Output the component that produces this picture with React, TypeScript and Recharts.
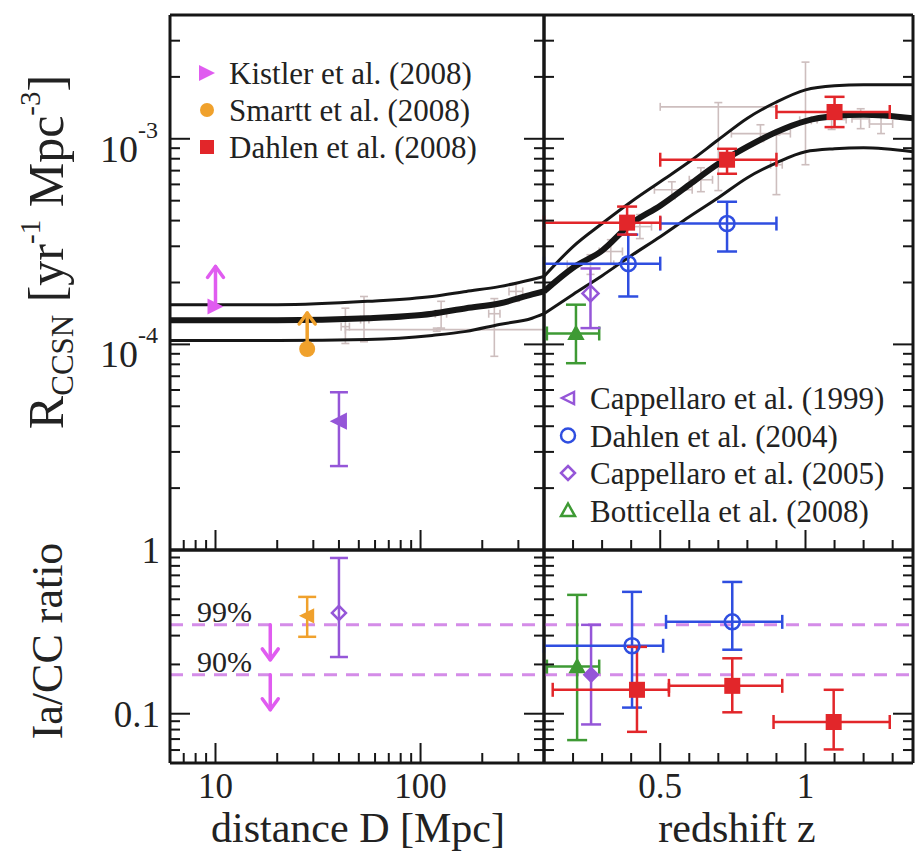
import React from 'react';
import { ComposedChart, Line, Scatter, XAxis, YAxis, ErrorBar, ReferenceLine } from 'recharts';

const SERIF = '"Liberation Serif", "DejaVu Serif", "Times New Roman", serif';
const INK = '#161616';
const MAGENTA = '#e05cf0';
const ORANGE = '#f0a12c';
const RED = '#e2262a';
const BLUE = '#2f4ee0';
const PURPLE = '#9556d8';
const GREEN = '#3e9a34';
const DASH = '#d48ce8';
const FAINT = '#cdbebe';

// ---- axes ----
const distDomain = [6, 400];
const zDomain = [0.1, 1.37];
const rateDomain = [1e-5, 4e-3];
const ratioDomain = [0.05, 1];

const distTicks = [6, 7, 8, 9, 10, 20, 30, 40, 50, 60, 70, 80, 90, 100, 200, 300, 400];
const zTicks = [0.1, 0.2, 0.3, 0.4, 0.5, 0.6, 0.7, 0.8, 0.9, 1.0, 1.1, 1.2, 1.3];
const rateTicks = [
  1e-5, 2e-5, 3e-5, 4e-5, 5e-5, 6e-5, 7e-5, 8e-5, 9e-5,
  1e-4, 2e-4, 3e-4, 4e-4, 5e-4, 6e-4, 7e-4, 8e-4, 9e-4,
  1e-3, 2e-3, 3e-3, 4e-3,
];
const ratioTicks = [0.05, 0.06, 0.07, 0.08, 0.09, 0.1, 0.2, 0.3, 0.4, 0.5, 0.6, 0.7, 0.8, 0.9, 1];
const zMajor = [0.5, 1.0];

const distLabels: [number, string][] = [[10, '10'], [100, '100']];
const zLabels: [number, string][] = [[0.5, '0.5'], [1, '1']];
const rateLabels: [number, string][] = [[1e-3, '-3'], [1e-4, '-4']];
const ratioLabels: [number, string][] = [[1, '1'], [0.1, '0.1']];

// ---- fit curves (solid black band) ----
const fitD = [6, 10, 20, 55, 114, 167, 242, 350, 400];
const fitNearHi = [1.56e-4, 1.56e-4, 1.56e-4, 1.62e-4, 1.71e-4, 1.81e-4, 1.91e-4, 2.07e-4, 2.14e-4];
const fitNearMid = [1.31e-4, 1.31e-4, 1.31e-4, 1.34e-4, 1.41e-4, 1.5e-4, 1.58e-4, 1.75e-4, 1.81e-4];
const fitNearLo = [1.045e-4, 1.045e-4, 1.045e-4, 1.057e-4, 1.106e-4, 1.157e-4, 1.25e-4, 1.34e-4, 1.41e-4];

const fitZ = [0.1, 0.2, 0.3, 0.4, 0.5, 0.6, 0.7, 0.8, 0.9, 1.0, 1.1, 1.2, 1.37];
const fitFarHi = [2.14e-4, 2.99e-4, 3.87e-4, 4.94e-4, 6.18e-4, 7.73e-4, 9.89e-4, 1.26e-3, 1.51e-3, 1.73e-3, 1.81e-3, 1.83e-3, 1.83e-3];
const fitFarMid = [1.81e-4, 2.36e-4, 2.86e-4, 3.87e-4, 4.73e-4, 5.98e-4, 7.56e-4, 9.15e-4, 1.08e-3, 1.22e-3, 1.29e-3, 1.31e-3, 1.26e-3];
const fitFarLo = [1.41e-4, 1.75e-4, 2.16e-4, 2.7e-4, 3.34e-4, 4.18e-4, 5.17e-4, 6.47e-4, 7.64e-4, 8.65e-4, 8.94e-4, 9.04e-4, 8.65e-4];

// ---- rate measurements: [x, y, yLow, yHigh, xLow?, xHigh?] ----
const kistlerRate = [[10, 1.53e-4]];
const smarttRate = [[28, 0.95e-4]];
const cappellaro99Rate = [[40, 4.23e-5, 2.56e-5, 5.85e-5]];
const dahlen08Rate = [
  [0.386, 3.91e-4, 3.42e-4, 4.68e-4, 0.1, 0.5],
  [0.73, 7.91e-4, 6.76e-4, 8.94e-4, 0.5, 0.9],
  [1.1, 1.35e-3, 1.14e-3, 1.6e-3, 0.9, 1.29],
];
const dahlen04Rate = [
  [0.39, 2.47e-4, 1.71e-4, 3.42e-4, 0.1, 0.5],
  [0.73, 3.87e-4, 2.83e-4, 4.94e-4, 0.5, 0.9],
];
const cappellaro05Rate = [[0.26, 1.77e-4, 1.2e-4, 2.34e-4]];
const botticellaRate = [[0.21, 1.13e-4, 0.81e-4, 1.56e-4, 0.11, 0.29]];

// faint background (star-formation based) points
const faintNear = [
  [43, 1.22e-4, 1.01e-4, 1.5e-4, 41, 45],
  [53, 1.32e-4, 1.03e-4, 1.71e-4, 51, 56],
  [126, 1.41e-4, 1.2e-4, 1.62e-4, 118, 134],
  [229, 1.41e-4, 0.875e-4, 1.67e-4, 215, 244],
  [120, 1.18e-4, 1.16e-4, 1.2e-4, 43, 400],
  [292, 1.81e-4, 1.62e-4, 1.98e-4, 270, 315],
];
const faintFar = [
  [0.26, 2.45e-4, 2.19e-4, 2.73e-4, 0.18, 0.34],
  [0.54, 5.65e-4, 5.11e-4, 6.18e-4, 0.48, 0.61],
  [0.7, 1.43e-3, 5.6e-4, 1.5e-3, 0.5, 0.9],
  [1.0, 1.23e-3, 7.48e-4, 2.36e-3, 0.98, 1.02],
  [0.845, 1.06e-3, 9.7e-4, 1.17e-3, 0.745, 0.948],
  [1.19, 1.25e-3, 1.12e-3, 1.4e-3, 1.16, 1.22],
  [0.9, 7.48e-4, 5.35e-4, 1.045e-3, 0.88, 0.92],
  [0.33, 2.83e-4, 2.47e-4, 3.23e-4, 0.29, 0.37],
  [0.43, 3.74e-4, 3.27e-4, 4.28e-4, 0.39, 0.47],
  [0.64, 6.32e-4, 5.53e-4, 7.23e-4, 0.6, 0.68],
  [1.09, 1.24e-3, 1.11e-3, 1.38e-3, 1.04, 1.14],
  [1.26, 1.18e-3, 1.06e-3, 1.31e-3, 1.22, 1.3],
];

// ---- Ia/CC ratio ----
const ratioLimitLevels = [0.349, 0.173];
const ratioLimitText = ['99%', '90%'];
const ratioLimitD = [[18.5, 0.349], [18.5, 0.173]];
const smarttRatio = [[28, 0.396, 0.295, 0.517]];
const cappellaro99Ratio = [[40, 0.413, 0.222, 0.894]];
const dahlen04Ratio = [
  [0.403, 0.26, 0.109, 0.555, 0.1, 0.51],
  [0.748, 0.364, 0.246, 0.638, 0.52, 0.92],
];
const botticellaRatio = [[0.214, 0.194, 0.069, 0.532, 0.11, 0.29]];
const cappellaro05Ratio = [[0.262, 0.173, 0.086, 0.349]];
const dahlen08Ratio = [
  [0.42, 0.14, 0.0775, 0.256, 0.13, 0.53],
  [0.748, 0.148, 0.102, 0.218, 0.53, 0.92],
  [1.097, 0.089, 0.0605, 0.14, 0.89, 1.29],
];

const legendNear = ['Kistler et al. (2008)', 'Smartt et al. (2008)', 'Dahlen et al. (2008)'];
const legendFar = ['Cappellaro et al. (1999)', 'Dahlen et al. (2004)', 'Cappellaro et al. (2005)', 'Botticella et al. (2008)'];

// ---- helpers ----
const toPts = (rows: number[][]) =>
  rows.map(([x, y, yLo, yHi, xLo, xHi]) => ({
    x,
    y,
    ey: yLo != null ? [y - yLo, yHi - y] : [0, 0],
    ex: xLo != null ? [x - xLo, xHi - x] : [0, 0],
  }));
const toLine = (xs: number[], ys: number[]) => xs.map((x, i) => ({ x, y: ys[i] }));

const near = (a: number, b: number) => Math.abs(a - b) <= Math.abs(b) * 1e-6;
const isPow10 = (v: number) => Math.abs(Math.log10(v) - Math.round(Math.log10(v))) < 1e-6;
const isZMajor = (v: number) => zMajor.some((m) => near(v, m));
const lookup = (list: [number, string][], v: number) => list.find(([k]) => near(v, k))?.[1];

type Side = 'left' | 'right' | 'top' | 'bottom';
const makeTick =
  (side: Side, major: (v: number) => boolean, label?: (v: number, x: number, y: number) => React.ReactNode) =>
  (props: any) => {
    const { x, y, payload } = props;
    const v = payload.value;
    const len = major(v) ? 20 : 10;
    const x2 = side === 'left' ? x + len : side === 'right' ? x - len : x;
    const y2 = side === 'top' ? y + len : side === 'bottom' ? y - len : y;
    return (
      <g>
        <line x1={x} y1={y} x2={x2} y2={y2} stroke={INK} strokeWidth={2} />
        {label ? label(v, x, y) : null}
      </g>
    );
  };

const txt = { fontFamily: SERIF, fill: '#222' };

const rateTickLabel = (v: number, x: number, y: number) => {
  const e = lookup(rateLabels, v);
  if (!e) return null;
  return (
    <text x={x - 12} y={y + 23} textAnchor="end" fontSize={38} {...txt}>
      10<tspan fontSize={24} dy={-24}>{e}</tspan>
    </text>
  );
};
const ratioTickLabel = (v: number, x: number, y: number) => {
  const s = lookup(ratioLabels, v);
  if (!s) return null;
  return (
    <text x={x - 10} y={y + 13} textAnchor="end" fontSize={37} {...txt}>
      {s}
    </text>
  );
};
const bottomLabel = (list: [number, string][]) => (v: number, x: number, y: number) => {
  const s = lookup(list, v);
  if (!s) return null;
  return (
    <text x={x} y={y + 35} textAnchor="middle" fontSize={35} {...txt}>
      {s}
    </text>
  );
};

// ---- markers ----
type Kind = 'triR' | 'triL' | 'circle' | 'circleOpen' | 'square' | 'diamondOpen' | 'diamond' | 'triUp' | 'triUpOpen';
const Marker = ({ cx, cy, kind, color, s = 8 }: { cx: number; cy: number; kind: Kind; color: string; s?: number }) => {
  switch (kind) {
    case 'triR':
      return <polygon points={`${cx - s},${cy - s} ${cx + s},${cy} ${cx - s},${cy + s}`} fill={color} />;
    case 'triL':
      return <polygon points={`${cx + s},${cy - s} ${cx - s},${cy} ${cx + s},${cy + s}`} fill={color} stroke={color} strokeWidth={2} />;
    case 'circle':
      return <circle cx={cx} cy={cy} r={s} fill={color} />;
    case 'circleOpen':
      return <circle cx={cx} cy={cy} r={s} fill="none" stroke={color} strokeWidth={2.5} />;
    case 'square':
      return <rect x={cx - s} y={cy - s} width={2 * s} height={2 * s} fill={color} />;
    case 'diamondOpen':
      return <polygon points={`${cx},${cy - s} ${cx + s},${cy} ${cx},${cy + s} ${cx - s},${cy}`} fill="none" stroke={color} strokeWidth={2.5} />;
    case 'diamond':
      return <polygon points={`${cx},${cy - s} ${cx + s},${cy} ${cx},${cy + s} ${cx - s},${cy}`} fill={color} stroke={color} strokeWidth={2} />;
    case 'triUp':
      return <polygon points={`${cx},${cy - s} ${cx + s},${cy + s * 0.8} ${cx - s},${cy + s * 0.8}`} fill={color} stroke={color} strokeWidth={2} />;
    case 'triUpOpen':
      return <polygon points={`${cx},${cy - s} ${cx + s},${cy + s * 0.8} ${cx - s},${cy + s * 0.8}`} fill="none" stroke={color} strokeWidth={2.5} />;
    default:
      return null;
  }
};

const Arrow = ({ cx, cy, up, len, color }: { cx: number; cy: number; up: boolean; len: number; color: string }) => {
  const y2 = up ? cy - len : cy + len;
  const h = up ? 11 : -11;
  return (
    <g stroke={color} strokeWidth={3.5} fill="none" strokeLinecap="round" strokeLinejoin="round">
      <line x1={cx} y1={cy} x2={cx} y2={y2} />
      <polyline points={`${cx - 8},${y2 + h} ${cx},${y2} ${cx + 8},${y2 + h}`} />
    </g>
  );
};

const shape = (kind: Kind, color: string, s?: number) => (p: any) => <Marker cx={p.cx} cy={p.cy} kind={kind} color={color} s={s} />;
const noShape = () => <g />;

const legendKindsNear: [Kind, string][] = [['triR', MAGENTA], ['circle', ORANGE], ['square', RED]];
const legendKindsFar: [Kind, string][] = [['triL', PURPLE], ['circleOpen', BLUE], ['diamondOpen', PURPLE], ['triUpOpen', GREEN]];

const Legend = ({ labels, kinds, x, y, step }: { labels: string[]; kinds: [Kind, string][]; x: number; y: number; step: number }) => (
  <g>
    {labels.map((l, i) => {
      const [kind, color] = kinds[i];
      const open = kind === 'triL';
      return (
        <g key={l}>
          {open ? (
            <polygon
              points={`${x + 6},${y + i * step - 6} ${x - 6},${y + i * step} ${x + 6},${y + i * step + 6}`}
              fill="none"
              stroke={color}
              strokeWidth={2.5}
            />
          ) : (
            <Marker cx={x} cy={y + i * step} kind={kind} color={color} s={kind === 'triR' ? 8 : 7} />
          )}
          <text x={x + 22} y={y + i * step + 11} fontSize={31} {...txt}>
            {l}
          </text>
        </g>
      );
    })}
  </g>
);

const axisLine = { stroke: INK, strokeWidth: 3 };

// frame axes for a panel (axes get 1px so recharts draws them)
const frame = (
  xTicks: number[],
  xDom: number[],
  xScale: 'log' | 'linear',
  yTicks: number[],
  yDom: number[],
  xMajor: (v: number) => boolean,
  opts: { leftLabel?: any; bottomLabel?: any; yTitle?: any; xTitle?: any },
) => [
  <XAxis
    key="xb"
    xAxisId={0}
    dataKey="x"
    type="number"
    scale={xScale}
    domain={xDom}
    ticks={xTicks}
    interval={0}
    allowDataOverflow
    height={1}
    tickSize={0}
    tickMargin={0}
    axisLine={axisLine}
    tickLine={false}
    tick={makeTick('bottom', xMajor, opts.bottomLabel)}
    label={opts.xTitle}
  />,
  <XAxis
    key="xt"
    xAxisId="top"
    orientation="top"
    type="number"
    scale={xScale}
    domain={xDom}
    ticks={xTicks}
    interval={0}
    allowDataOverflow
    height={1}
    tickSize={0}
    tickMargin={0}
    axisLine={axisLine}
    tickLine={false}
    tick={makeTick('top', xMajor)}
  />,
  <YAxis
    key="yl"
    yAxisId={0}
    dataKey="y"
    type="number"
    scale="log"
    domain={yDom}
    ticks={yTicks}
    interval={0}
    allowDataOverflow
    width={1}
    tickSize={0}
    tickMargin={0}
    axisLine={axisLine}
    tickLine={false}
    tick={makeTick('left', isPow10, opts.leftLabel)}
    label={opts.yTitle}
  />,
  <YAxis
    key="yr"
    yAxisId="right"
    orientation="right"
    type="number"
    scale="log"
    domain={yDom}
    ticks={yTicks}
    interval={0}
    allowDataOverflow
    width={1}
    tickSize={0}
    tickMargin={0}
    axisLine={axisLine}
    tickLine={false}
    tick={makeTick('right', isPow10)}
  />,
];

const fitLines = (xs: number[], hi: number[], mid: number[], lo: number[]) => [
  <Line key="hi" data={toLine(xs, hi)} dataKey="y" type="monotone" stroke={INK} strokeWidth={3} dot={false} isAnimationActive={false} />,
  <Line key="lo" data={toLine(xs, lo)} dataKey="y" type="monotone" stroke={INK} strokeWidth={3} dot={false} isAnimationActive={false} />,
  <Line key="mid" data={toLine(xs, mid)} dataKey="y" type="monotone" stroke={INK} strokeWidth={6} dot={false} isAnimationActive={false} />,
];

const series = (key: string, rows: number[][], color: string, kind: Kind | null, s: number, withX: boolean, withY = true, lw = 2.5, capY = 10, capX = 7) => (
  <Scatter key={key} data={toPts(rows)} isAnimationActive={false} shape={kind ? shape(kind, color, s) : noShape}>
    {withY ? <ErrorBar dataKey="ey" direction="y" width={capY} stroke={color} strokeWidth={lw} isAnimationActive={false} /> : null}
    {withX ? <ErrorBar dataKey="ex" direction="x" width={capX} stroke={color} strokeWidth={lw} isAnimationActive={false} /> : null}
  </Scatter>
);

const BOT_TOP = 547;
const RIGHT_LEFT = 540;

const rateTitle = () => (
  <text transform="translate(63, 252) rotate(-90)" textAnchor="middle" fontSize={50} {...txt}>
    R<tspan fontSize={31} dy={10}>CCSN</tspan>
    <tspan dy={-10}> [yr</tspan>
    <tspan fontSize={29} dy={-23}>-1</tspan>
    <tspan dy={23}> Mpc</tspan>
    <tspan fontSize={29} dy={-23}>-3</tspan>
    <tspan dy={23}>]</tspan>
  </text>
);
const ratioTitle = () => (
  <text transform={`translate(62, ${641 - BOT_TOP}) rotate(-90)`} textAnchor="middle" fontSize={44} {...txt}>
    Ia/CC ratio
  </text>
);
const distTitle = () => (
  <text x={358} y={842 - BOT_TOP} textAnchor="middle" fontSize={42} {...txt}>
    distance D [Mpc]
  </text>
);
const zTitle = () => (
  <text x={737 - RIGHT_LEFT} y={842 - BOT_TOP} textAnchor="middle" fontSize={42} {...txt}>
    redshift z
  </text>
);

const limitShape = (p: any) => <Arrow cx={p.cx} cy={p.cy} up={false} len={35} color={MAGENTA} />;
const kistlerShape = (p: any) => (
  <g>
    <Arrow cx={p.cx} cy={p.cy} up len={40} color={MAGENTA} />
    <Marker cx={p.cx} cy={p.cy} kind="triR" color={MAGENTA} s={8} />
  </g>
);
const smarttShape = (p: any) => (
  <g>
    <Arrow cx={p.cx} cy={p.cy} up len={36} color={ORANGE} />
    <Marker cx={p.cx} cy={p.cy} kind="circle" color={ORANGE} s={8} />
  </g>
);

export default function App() {
  return (
    <div style={{ position: 'relative', width: 915, height: 853, background: '#fff', overflow: 'hidden' }}>
      <style>{'body{margin:0} .recharts-wrapper, .recharts-surface{overflow:visible !important}'}</style>

      {/* top-left: local rate vs distance */}
      <div style={{ position: 'absolute', left: 0, top: 0 }}>
        <ComposedChart width={548} height={553} margin={{ top: 14, left: 169, right: 3, bottom: 2 }}>
          {frame(distTicks, distDomain, 'log', rateTicks, rateDomain, isPow10, { leftLabel: rateTickLabel, yTitle: rateTitle })}
          {series('faintN', faintNear, FAINT, null, 0, true, true, 1.6, 4, 4)}
          {fitLines(fitD, fitNearHi, fitNearMid, fitNearLo)}
          {series('cap99', cappellaro99Rate, PURPLE, 'triL', 7, false, true, 2.5, 9)}
          <Scatter data={toPts(kistlerRate)} isAnimationActive={false} shape={kistlerShape} />
          <Scatter data={toPts(smarttRate)} isAnimationActive={false} shape={smarttShape} />
          <Legend labels={legendNear} kinds={legendKindsNear} x={207} y={73} step={37} />
        </ComposedChart>
      </div>

      {/* top-right: rate vs redshift */}
      <div style={{ position: 'absolute', left: RIGHT_LEFT, top: 0 }}>
        <ComposedChart width={375} height={553} margin={{ top: 14, left: 3, right: 1, bottom: 2 }}>
          {frame(zTicks, zDomain, 'linear', rateTicks, rateDomain, isZMajor, {})}
          {series('faintF', faintFar, FAINT, null, 0, true, true, 1.6, 4, 4)}
          {fitLines(fitZ, fitFarHi, fitFarMid, fitFarLo)}
          {series('bot', botticellaRate, GREEN, 'triUp', 7, true)}
          {series('cap05', cappellaro05Rate, PURPLE, 'diamondOpen', 8, false)}
          {series('d04', dahlen04Rate, BLUE, 'circleOpen', 7.5, true)}
          {series('d08', dahlen08Rate, RED, 'square', 8, true)}
          <Legend labels={legendFar} kinds={legendKindsFar} x={28} y={398} step={37.5} />
        </ComposedChart>
      </div>

      {/* bottom-left: Ia/CC ratio vs distance */}
      <div style={{ position: 'absolute', left: 0, top: BOT_TOP }}>
        <ComposedChart width={548} height={306} margin={{ top: 2, left: 169, right: 3, bottom: 89 }}>
          {frame(distTicks, distDomain, 'log', ratioTicks, ratioDomain, isPow10, {
            leftLabel: ratioTickLabel,
            bottomLabel: bottomLabel(distLabels),
            yTitle: ratioTitle,
            xTitle: distTitle,
          })}
          {ratioLimitLevels.map((v, i) => (
            <ReferenceLine
              key={v}
              y={v}
              stroke={DASH}
              strokeWidth={3}
              strokeDasharray="13 9"
              label={(p: any) => (
                <text x={(p.viewBox?.x ?? 170) + 27} y={(p.viewBox?.y ?? 0) - 3} fontSize={30} {...txt}>
                  {ratioLimitText[i]}
                </text>
              )}
            />
          ))}
          <Scatter data={toPts(ratioLimitD)} isAnimationActive={false} shape={limitShape} />
          {series('smR', smarttRatio, ORANGE, 'triL', 6, false, true, 2.5, 9)}
          {series('c99R', cappellaro99Ratio, PURPLE, 'diamondOpen', 7, false, true, 2.5, 9)}
        </ComposedChart>
      </div>

      {/* bottom-right: Ia/CC ratio vs redshift */}
      <div style={{ position: 'absolute', left: RIGHT_LEFT, top: BOT_TOP }}>
        <ComposedChart width={375} height={306} margin={{ top: 2, left: 3, right: 1, bottom: 89 }}>
          {frame(zTicks, zDomain, 'linear', ratioTicks, ratioDomain, isZMajor, { bottomLabel: bottomLabel(zLabels), xTitle: zTitle })}
          {ratioLimitLevels.map((v) => (
            <ReferenceLine key={v} y={v} stroke={DASH} strokeWidth={3} strokeDasharray="13 9" />
          ))}
          {series('botR', botticellaRatio, GREEN, 'triUp', 7, true)}
          {series('c05R', cappellaro05Ratio, PURPLE, 'diamond', 7, false)}
          {series('d04R', dahlen04Ratio, BLUE, 'circleOpen', 7.5, true)}
          {series('d08R', dahlen08Ratio, RED, 'square', 8, true)}
        </ComposedChart>
      </div>
    </div>
  );
}
